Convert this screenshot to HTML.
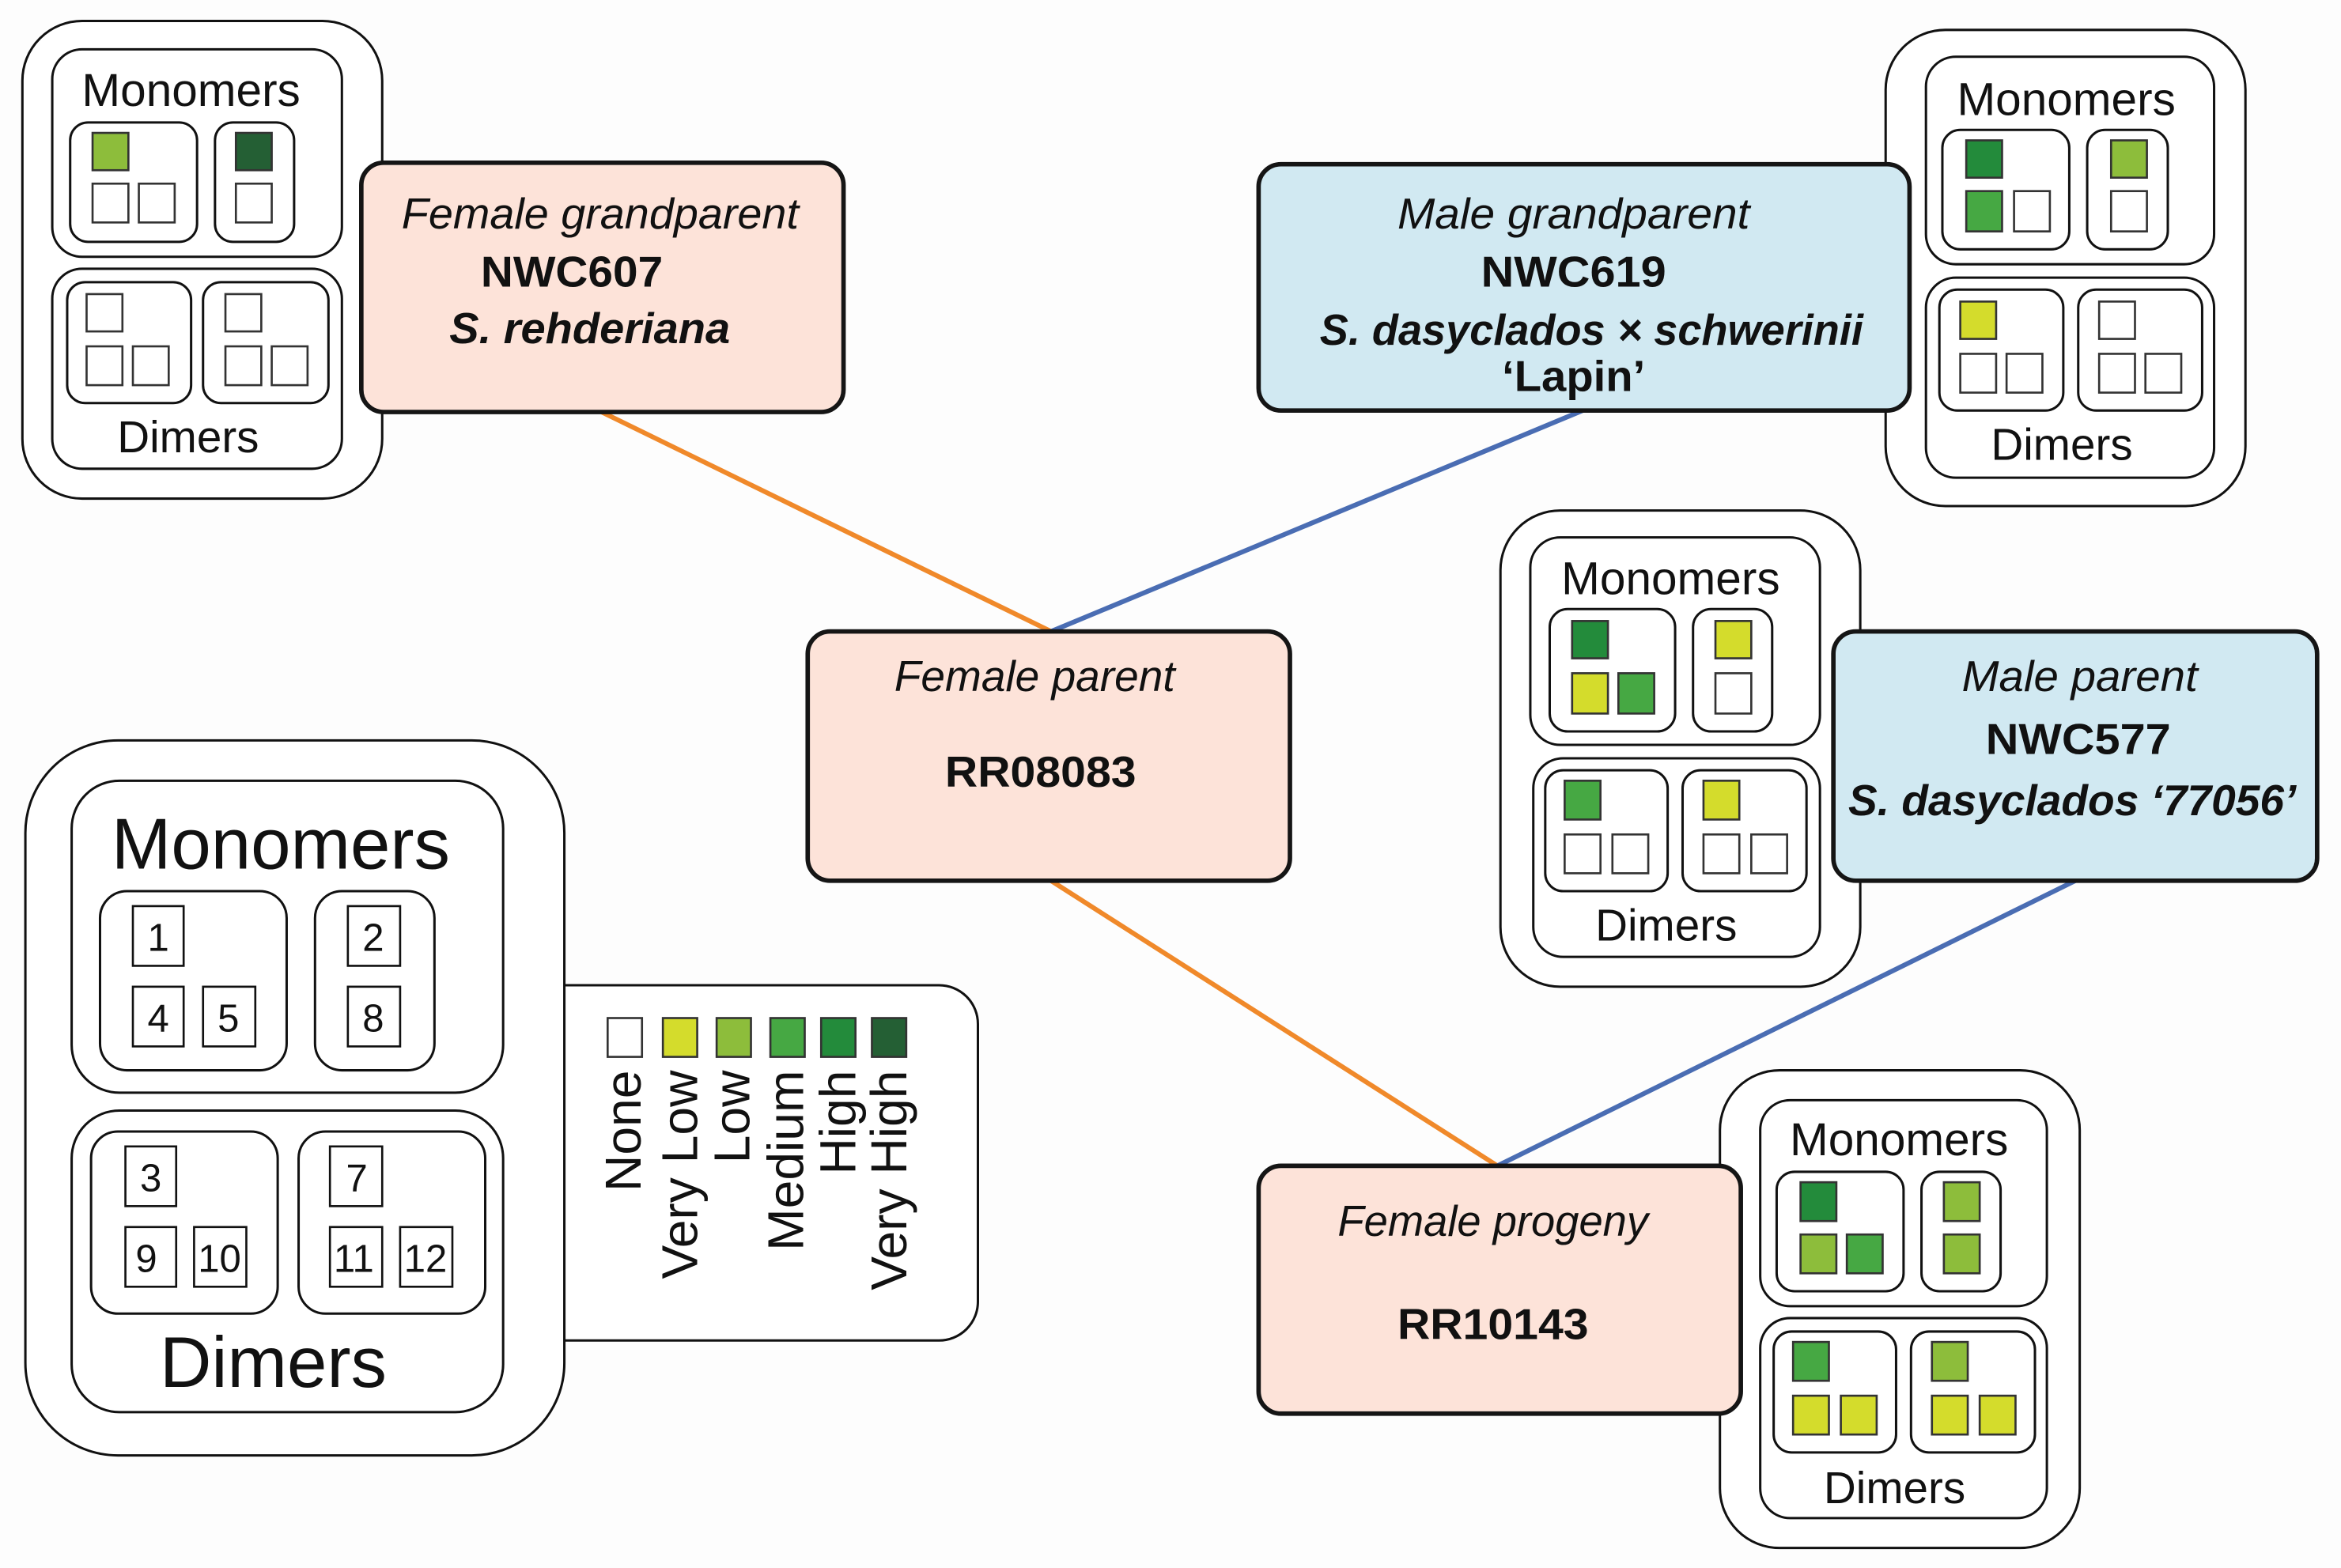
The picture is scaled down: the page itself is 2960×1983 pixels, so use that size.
<!DOCTYPE html>
<html><head><meta charset="utf-8"><style>html,body{margin:0;padding:0;background:#fdfdfd}svg{display:block}</style></head>
<body>
<svg xmlns="http://www.w3.org/2000/svg" width="2960" height="1983" viewBox="0 0 1568 1050.4">
<defs><style>
.o{fill:#fff;stroke:#111;stroke-width:1.6}
.sq{stroke:#333;stroke-width:1.4}
.t{font-family:"Liberation Sans",sans-serif;fill:#111}
.b{font-family:"Liberation Sans",sans-serif;fill:#111;font-weight:bold}
.i{font-family:"Liberation Sans",sans-serif;fill:#111;font-style:italic}
.nb{fill:#fff;stroke:#111;stroke-width:1.4}
</style></defs>
<rect width="1568" height="1050.4" fill="#fdfdfd"/>
<!-- lines -->
<g stroke-width="3.2" fill="none">
<line x1="403" y1="276" x2="704" y2="423" stroke="#f0892a"/>
<line x1="1060" y1="275" x2="704" y2="423" stroke="#4a6db3"/>
<line x1="704" y1="590" x2="1003" y2="781" stroke="#f0892a"/>
<line x1="1390" y1="590" x2="1003" y2="781" stroke="#4a6db3"/>
</g>

<!-- top-left module -->
<rect class="o" x="15" y="14" width="241" height="320" rx="40"/>
<rect class="o" x="35" y="33" width="194" height="139" rx="20"/>
<text class="t" x="128" y="71" font-size="31" text-anchor="middle">Monomers</text>
<rect class="o" x="47" y="82" width="85" height="80" rx="12"/>
<rect class="o" x="144" y="82" width="53" height="80" rx="12"/>
<rect class="sq" x="62" y="89" width="24" height="25" fill="#8dbd3b"/>
<rect class="sq" x="62" y="123" width="24" height="26" fill="#fff"/>
<rect class="sq" x="93" y="123" width="24" height="26" fill="#fff"/>
<rect class="sq" x="158" y="89" width="24" height="25" fill="#245f34"/>
<rect class="sq" x="158" y="123" width="24" height="26" fill="#fff"/>
<rect class="o" x="35" y="180" width="194" height="134" rx="20"/>
<rect class="o" x="45" y="189" width="83" height="81" rx="12"/>
<rect class="o" x="136" y="189" width="84" height="81" rx="12"/>
<rect class="sq" x="58" y="197" width="24" height="25" fill="#fff"/>
<rect class="sq" x="58" y="232" width="24" height="26" fill="#fff"/>
<rect class="sq" x="89" y="232" width="24" height="26" fill="#fff"/>
<rect class="sq" x="151" y="197" width="24" height="25" fill="#fff"/>
<rect class="sq" x="151" y="232" width="24" height="26" fill="#fff"/>
<rect class="sq" x="182" y="232" width="24" height="26" fill="#fff"/>
<text class="t" x="126" y="303" font-size="30" text-anchor="middle">Dimers</text>

<!-- top-right module -->
<rect class="o" x="1263" y="20" width="241" height="319" rx="40"/>
<rect class="o" x="1290" y="38" width="193" height="139" rx="20"/>
<text class="t" x="1384" y="77" font-size="31" text-anchor="middle">Monomers</text>
<rect class="o" x="1301" y="87" width="85" height="80" rx="12"/>
<rect class="o" x="1398" y="87" width="54" height="80" rx="12"/>
<rect class="sq" x="1317" y="94" width="24" height="25" fill="#238b3b"/>
<rect class="sq" x="1317" y="128" width="24" height="27" fill="#46a843"/>
<rect class="sq" x="1349" y="128" width="24" height="27" fill="#fff"/>
<rect class="sq" x="1414" y="94" width="24" height="25" fill="#8dbd3b"/>
<rect class="sq" x="1414" y="128" width="24" height="27" fill="#fff"/>
<rect class="o" x="1290" y="186" width="193" height="134" rx="20"/>
<rect class="o" x="1299" y="194" width="83" height="81" rx="12"/>
<rect class="o" x="1392" y="194" width="83" height="81" rx="12"/>
<rect class="sq" x="1313" y="202" width="24" height="25" fill="#d4dc2c"/>
<rect class="sq" x="1313" y="237" width="24" height="26" fill="#fff"/>
<rect class="sq" x="1344" y="237" width="24" height="26" fill="#fff"/>
<rect class="sq" x="1406" y="202" width="24" height="25" fill="#fff"/>
<rect class="sq" x="1406" y="237" width="24" height="26" fill="#fff"/>
<rect class="sq" x="1437" y="237" width="24" height="26" fill="#fff"/>
<text class="t" x="1381" y="308" font-size="30" text-anchor="middle">Dimers</text>

<!-- mid-right module -->
<rect class="o" x="1005" y="342" width="241" height="319" rx="40"/>
<rect class="o" x="1025" y="360" width="194" height="139" rx="20"/>
<text class="t" x="1119" y="398" font-size="31" text-anchor="middle">Monomers</text>
<rect class="o" x="1038" y="408" width="84" height="82" rx="12"/>
<rect class="o" x="1134" y="408" width="53" height="82" rx="12"/>
<rect class="sq" x="1053" y="416" width="24" height="25" fill="#238b3b"/>
<rect class="sq" x="1053" y="451" width="24" height="27" fill="#d4dc2c"/>
<rect class="sq" x="1084" y="451" width="24" height="27" fill="#46a843"/>
<rect class="sq" x="1149" y="416" width="24" height="25" fill="#d4dc2c"/>
<rect class="sq" x="1149" y="451" width="24" height="27" fill="#fff"/>
<rect class="o" x="1027" y="508" width="192" height="133" rx="20"/>
<rect class="o" x="1035" y="516" width="82" height="81" rx="12"/>
<rect class="o" x="1127" y="516" width="83" height="81" rx="12"/>
<rect class="sq" x="1048" y="523" width="24" height="26" fill="#46a843"/>
<rect class="sq" x="1048" y="559" width="24" height="26" fill="#fff"/>
<rect class="sq" x="1080" y="559" width="24" height="26" fill="#fff"/>
<rect class="sq" x="1141" y="523" width="24" height="26" fill="#d4dc2c"/>
<rect class="sq" x="1141" y="559" width="24" height="26" fill="#fff"/>
<rect class="sq" x="1173" y="559" width="24" height="26" fill="#fff"/>
<text class="t" x="1116" y="630" font-size="30" text-anchor="middle">Dimers</text>

<!-- bottom-right module -->
<rect class="o" x="1152" y="717" width="241" height="320" rx="40"/>
<rect class="o" x="1179" y="737" width="192" height="138" rx="20"/>
<text class="t" x="1272" y="774" font-size="31" text-anchor="middle">Monomers</text>
<rect class="o" x="1190" y="785" width="85" height="80" rx="12"/>
<rect class="o" x="1287" y="785" width="53" height="80" rx="12"/>
<rect class="sq" x="1206" y="792" width="24" height="26" fill="#238b3b"/>
<rect class="sq" x="1206" y="827" width="24" height="26" fill="#8dbd3b"/>
<rect class="sq" x="1237" y="827" width="24" height="26" fill="#46a843"/>
<rect class="sq" x="1302" y="792" width="24" height="26" fill="#8dbd3b"/>
<rect class="sq" x="1302" y="827" width="24" height="26" fill="#8dbd3b"/>
<rect class="o" x="1179" y="883" width="192" height="134" rx="20"/>
<rect class="o" x="1188" y="892" width="82" height="81" rx="12"/>
<rect class="o" x="1280" y="892" width="83" height="81" rx="12"/>
<rect class="sq" x="1201" y="899" width="24" height="26" fill="#46a843"/>
<rect class="sq" x="1201" y="935" width="24" height="26" fill="#d4dc2c"/>
<rect class="sq" x="1233" y="935" width="24" height="26" fill="#d4dc2c"/>
<rect class="sq" x="1294" y="899" width="24" height="26" fill="#8dbd3b"/>
<rect class="sq" x="1294" y="935" width="24" height="26" fill="#d4dc2c"/>
<rect class="sq" x="1326" y="935" width="24" height="26" fill="#d4dc2c"/>
<text class="t" x="1269" y="1007" font-size="30" text-anchor="middle">Dimers</text>

<!-- legend panel -->
<rect class="o" x="330" y="660" width="325" height="238" rx="26"/>
<!-- bottom-left key module -->
<rect class="o" x="17" y="496" width="361" height="479" rx="62"/>
<rect class="o" x="48" y="523" width="289" height="209" rx="32"/>
<text class="t" x="188" y="582" font-size="48" text-anchor="middle">Monomers</text>
<rect class="o" x="67" y="597" width="125" height="120" rx="18"/>
<rect class="o" x="211" y="597" width="80" height="120" rx="18"/>
<rect class="o" x="48" y="744" width="289" height="202" rx="32"/>
<rect class="o" x="61" y="758" width="125" height="122" rx="18"/>
<rect class="o" x="200" y="758" width="125" height="122" rx="18"/>
<g font-size="26" text-anchor="middle" class="t">
<rect class="nb" x="89" y="607" width="34" height="40"/><text class="t" x="106" y="637">1</text>
<rect class="nb" x="89" y="661" width="34" height="40"/><text class="t" x="106" y="691">4</text>
<rect class="nb" x="136" y="661" width="35" height="40"/><text class="t" x="153" y="691">5</text>
<rect class="nb" x="233" y="607" width="35" height="40"/><text class="t" x="250" y="637">2</text>
<rect class="nb" x="233" y="661" width="35" height="40"/><text class="t" x="250" y="691">8</text>
<rect class="nb" x="84" y="768" width="34" height="40"/><text class="t" x="101" y="798">3</text>
<rect class="nb" x="84" y="822" width="34" height="40"/><text class="t" x="98" y="852">9</text>
<rect class="nb" x="130" y="822" width="35" height="40"/><text class="t" x="147" y="852">10</text>
<rect class="nb" x="221" y="768" width="35" height="40"/><text class="t" x="239" y="798">7</text>
<rect class="nb" x="221" y="822" width="35" height="40"/><text class="t" x="237" y="852">11</text>
<rect class="nb" x="268" y="822" width="35" height="40"/><text class="t" x="285" y="852">12</text>
</g>
<text class="t" x="183" y="929" font-size="48" text-anchor="middle">Dimers</text>

<!-- legend squares -->
<rect class="sq" x="407" y="682" width="23" height="26" fill="#fff"/>
<rect class="sq" x="444" y="682" width="23" height="26" fill="#d4dc2c"/>
<rect class="sq" x="480" y="682" width="23" height="26" fill="#8dbd3b"/>
<rect class="sq" x="516" y="682" width="23" height="26" fill="#46a843"/>
<rect class="sq" x="550" y="682" width="23" height="26" fill="#238b3b"/>
<rect class="sq" x="584" y="682" width="23" height="26" fill="#245f34"/>
<g class="t" font-size="34" text-anchor="end">
<text transform="translate(429,717) rotate(-90)">None</text>
<text transform="translate(467,717) rotate(-90)">Very Low</text>
<text transform="translate(502,717) rotate(-90)">Low</text>
<text transform="translate(538,717) rotate(-90)">Medium</text>
<text transform="translate(573,717) rotate(-90)">High</text>
<text transform="translate(607,717) rotate(-90)">Very High</text>
</g>

<!-- main boxes -->
<g stroke="#151515" stroke-width="3">
<rect x="242" y="109" width="323" height="167" rx="15" fill="#fde3d9"/>
<rect x="843" y="110" width="436" height="165" rx="15" fill="#d1e9f2"/>
<rect x="541" y="423" width="323" height="167" rx="15" fill="#fde3d9"/>
<rect x="1228" y="423" width="324" height="167" rx="15" fill="#d1e9f2"/>
<rect x="843" y="781" width="323" height="166" rx="15" fill="#fde3d9"/>
</g>
<g text-anchor="middle" font-size="29">
<text class="i" x="402" y="153" textLength="266" lengthAdjust="spacingAndGlyphs">Female grandparent</text>
<text class="b" x="383" y="192" textLength="122" lengthAdjust="spacingAndGlyphs">NWC607</text>
<text class="b" x="395" y="230" font-style="italic" textLength="188" lengthAdjust="spacingAndGlyphs">S. rehderiana</text>

<text class="i" x="1054" y="153" textLength="236" lengthAdjust="spacingAndGlyphs">Male grandparent</text>
<text class="b" x="1054" y="192" textLength="124" lengthAdjust="spacingAndGlyphs">NWC619</text>
<text class="b" x="1066" y="231" font-style="italic" textLength="364" lengthAdjust="spacingAndGlyphs">S. dasyclados × schwerinii</text>
<text class="b" x="1054" y="262" textLength="96" lengthAdjust="spacingAndGlyphs">‘Lapin’</text>

<text class="i" x="693" y="463" textLength="188" lengthAdjust="spacingAndGlyphs">Female parent</text>
<text class="b" x="697" y="527" textLength="128" lengthAdjust="spacingAndGlyphs">RR08083</text>

<text class="i" x="1393" y="463" textLength="158" lengthAdjust="spacingAndGlyphs">Male parent</text>
<text class="b" x="1392" y="505" textLength="124" lengthAdjust="spacingAndGlyphs">NWC577</text>
<text class="b" x="1388" y="546" font-style="italic" textLength="300" lengthAdjust="spacingAndGlyphs">S. dasyclados ‘77056’</text>

<text class="i" x="1000" y="828" textLength="208" lengthAdjust="spacingAndGlyphs">Female progeny</text>
<text class="b" x="1000" y="897" textLength="128" lengthAdjust="spacingAndGlyphs">RR10143</text>
</g>
</svg>
</body></html>
